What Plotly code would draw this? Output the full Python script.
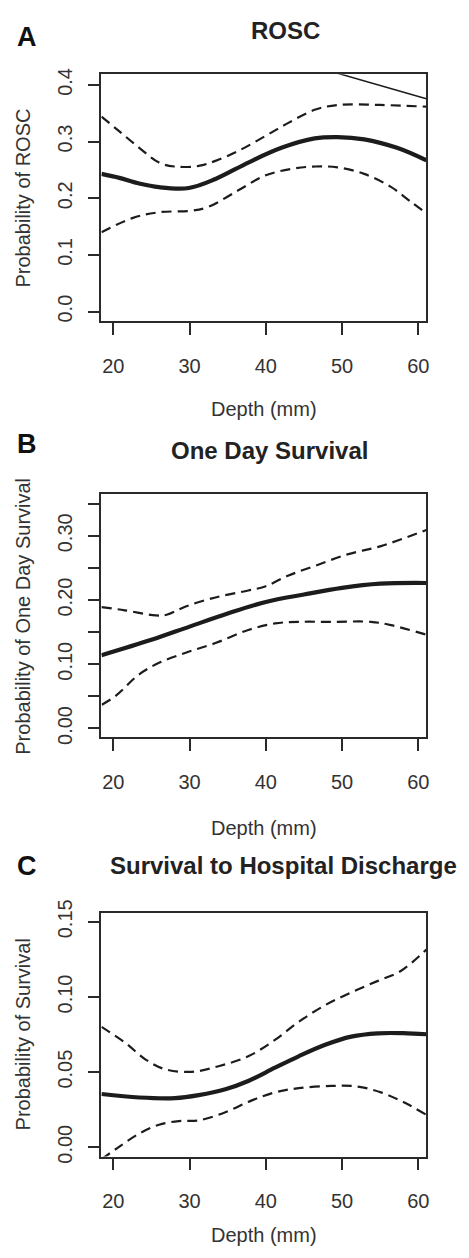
import plotly.graph_objects as go

# page is photographed at 469x1258; the html body has an 8px margin,
# so the figure itself is made 8px smaller and all page positions shifted.
PAGE_W, PAGE_H, OFF = 469, 1258, 8
W, H = PAGE_W - OFF, PAGE_H - OFF

# ---------------- data ----------------
x_ticks = [20, 30, 40, 50, 60]
x_range = [18.44, 61.04]

# Panel A: ROSC
A_main_x = [18.45, 20.8, 23.4, 26.0, 29.9, 33.4, 37.7, 42.05, 46.4, 49.4, 52.9, 57.2, 61.05]
A_main_y = [0.243, 0.236, 0.226, 0.2195, 0.218, 0.234, 0.263, 0.289, 0.3056, 0.308, 0.304, 0.289, 0.267]
A_up_x = [18.45, 20.8, 23.4, 26.0, 28.0, 31.2, 33.4, 36.4, 39.9, 42.9, 46.4, 49.4, 55.0, 61.05]
A_up_y = [0.344, 0.318, 0.289, 0.263, 0.256, 0.257, 0.266, 0.2835, 0.3095, 0.3326, 0.356, 0.3646, 0.3646, 0.3616]
A_lo_x = [18.45, 22.5, 26.0, 30.3, 32.5, 36.4, 39.9, 43.3, 46.4, 49.4, 52.9, 56.4, 59.0, 61.05]
A_lo_y = [0.14, 0.165, 0.1753, 0.178, 0.185, 0.214, 0.24, 0.2517, 0.256, 0.2545, 0.243, 0.22, 0.194, 0.1736]
A_thin_x = [48.0, 61.05]
A_thin_y = [0.426, 0.3755]
A_ytick_vals = [0.0, 0.1, 0.2, 0.3, 0.4]
A_ytick_text = ["0.0", "0.1", "0.2", "0.3", "0.4"]
A_yrange = [-0.0168, 0.419]

# Panel B: One Day Survival
B_main_x = [18.45, 25.0, 30.0, 35.0, 40.0, 45.0, 50.0, 55.0, 61.05]
B_main_y = [0.114, 0.138, 0.1586, 0.179, 0.197, 0.2086, 0.219, 0.2254, 0.2265]
B_up_x = [18.45, 21.5, 25.56, 27.0, 29.5, 33.4, 37.7, 39.9, 42.9, 46.4, 50.7, 55.1, 61.05]
B_up_y = [0.189, 0.184, 0.176, 0.177, 0.19, 0.204, 0.2148, 0.221, 0.2378, 0.253, 0.271, 0.284, 0.309]
B_lo_x = [18.5, 20.35, 23.4, 26.0, 29.5, 33.4, 37.7, 41.2, 44.3, 48.6, 53.8, 56.4, 61.05]
B_lo_y = [0.037, 0.0511, 0.0844, 0.1022, 0.118, 0.133, 0.1534, 0.1636, 0.166, 0.166, 0.166, 0.161, 0.146]
B_ytick_vals = [0.0, 0.05, 0.10, 0.15, 0.20, 0.25, 0.30, 0.35]
B_ytick_text = ["0.00", "", "0.10", "", "0.20", "", "0.30", ""]
B_yrange = [-0.0138, 0.3646]

# Panel C: Survival to Hospital Discharge
C_main_x = [18.45, 23.4, 28.1, 31.2, 34.7, 37.7, 41.2, 44.3, 47.7, 51.2, 54.7, 58.0, 61.05]
C_main_y = [0.0354, 0.0331, 0.0327, 0.0347, 0.0386, 0.0441, 0.0529, 0.0605, 0.068, 0.0736, 0.0758, 0.0759, 0.0752]
C_up_x = [18.45, 21.65, 24.25, 26.85, 30.3, 33.8, 37.7, 41.2, 44.3, 47.7, 51.2, 54.7, 57.7, 61.05]
C_up_y = [0.0801, 0.0692, 0.0583, 0.0518, 0.0502, 0.0539, 0.0605, 0.0714, 0.0834, 0.0943, 0.103, 0.1107, 0.1173, 0.1315]
C_lo_x = [18.45, 20.8, 23.4, 26.0, 28.6, 31.2, 34.7, 38.1, 41.2, 44.3, 48.6, 52.0, 55.1, 58.1, 61.05]
C_lo_y = [-0.008, 0.0004, 0.0091, 0.015, 0.0174, 0.0179, 0.0233, 0.031, 0.0365, 0.0393, 0.0408, 0.0404, 0.0365, 0.0299, 0.0216]
C_ytick_vals = [0.0, 0.05, 0.10, 0.15]
C_ytick_text = ["0.00", "0.05", "0.10", "0.15"]
C_yrange = [-0.0062, 0.1562]

letters = ["A", "B", "C"]
titles = ["ROSC", "One Day Survival", "Survival to Hospital Discharge"]
ylabels = ["Probability of ROSC", "Probability of One Day Survival", "Probability of Survival"]
xlabel = "Depth (mm)"

# ---------------- layout geometry (page pixels) ----------------
plot_left, plot_right = 102, 429
panels = [
    dict(top=62, bottom=313, letter_y=24, title_x=287, title_y=18, xlab_y=402),
    dict(top=489, bottom=736, letter_y=438, title_x=271, title_y=444, xlab_y=828),
    dict(top=914, bottom=1162, letter_y=867, title_x=285, title_y=866, xlab_y=1242),
]


def px(x):
    return (x - OFF) / W


def py(y):
    return 1 - (y - OFF) / H


LINE = "#1c1c1c"
AXC = "#2a2a2a"
FONT = "Liberation Sans, Arial, sans-serif"

fig = go.Figure()

series = [
    (A_main_x, A_main_y, A_up_x, A_up_y, A_lo_x, A_lo_y),
    (B_main_x, B_main_y, B_up_x, B_up_y, B_lo_x, B_lo_y),
    (C_main_x, C_main_y, C_up_x, C_up_y, C_lo_x, C_lo_y),
]
for i, (mx, my, ux, uy, lx, ly) in enumerate(series):
    xa = "x" if i == 0 else f"x{i+1}"
    ya = "y" if i == 0 else f"y{i+1}"
    fig.add_trace(go.Scatter(x=ux, y=uy, mode="lines", xaxis=xa, yaxis=ya,
                             line=dict(color=LINE, width=2.2, dash="10px,6px", shape="spline", smoothing=1.0),
                             showlegend=False, hoverinfo="skip"))
    fig.add_trace(go.Scatter(x=lx, y=ly, mode="lines", xaxis=xa, yaxis=ya,
                             line=dict(color=LINE, width=2.2, dash="10px,6px", shape="spline", smoothing=1.0),
                             showlegend=False, hoverinfo="skip"))
    fig.add_trace(go.Scatter(x=mx, y=my, mode="lines", xaxis=xa, yaxis=ya,
                             line=dict(color=LINE, width=4.2, shape="spline", smoothing=1.0),
                             showlegend=False, hoverinfo="skip"))
    if i == 0:
        fig.add_trace(go.Scatter(x=A_thin_x, y=A_thin_y, mode="lines", xaxis=xa, yaxis=ya,
                                 line=dict(color=LINE, width=1.5),
                                 showlegend=False, hoverinfo="skip"))

yticks = [(A_ytick_vals, A_ytick_text, A_yrange),
          (B_ytick_vals, B_ytick_text, B_yrange),
          (C_ytick_vals, C_ytick_text, C_yrange)]

layout = dict(
    width=W, height=H,
    margin=dict(l=0, r=0, t=0, b=0),
    paper_bgcolor="white", plot_bgcolor="white",
    font=dict(family=FONT, color="#333"),
    showlegend=False,
)
annotations = []
for i, p in enumerate(panels):
    sfx = "" if i == 0 else str(i + 1)
    ydom = [py(p["bottom"]), py(p["top"])]
    vals, texts, yr = yticks[i]
    layout["xaxis" + sfx] = dict(
        domain=[px(plot_left), px(plot_right)], range=x_range,
        anchor="y" + sfx, tickvals=x_ticks, ticktext=[str(v) for v in x_ticks],
        ticks="outside", ticklen=12, tickwidth=1.6, tickcolor=AXC,
        showline=True, mirror=True, linecolor=AXC, linewidth=1.6,
        showgrid=False, zeroline=False,
        tickfont=dict(size=20, family=FONT, color="#333"),
        ticklabelstandoff=14, fixedrange=True,
    )
    layout["yaxis" + sfx] = dict(
        domain=ydom, range=yr, anchor="x" + sfx,
        tickvals=vals, ticktext=texts, tickangle=-90,
        ticks="outside", ticklen=12, tickwidth=1.6, tickcolor=AXC,
        showline=True, mirror=True, linecolor=AXC, linewidth=1.6,
        showgrid=False, zeroline=False,
        tickfont=dict(size=20, family=FONT, color="#333"),
        ticklabelstandoff=8, fixedrange=True,
    )
    annotations.append(dict(text="<b>%s</b>" % letters[i], x=px(27), y=py(p["letter_y"]),
                            xref="paper", yref="paper", xanchor="center", yanchor="middle",
                            showarrow=False, font=dict(size=27, family=FONT, color="#111")))
    annotations.append(dict(text="<b>%s</b>" % titles[i], x=px(p["title_x"]), y=py(p["title_y"]),
                            xref="paper", yref="paper", xanchor="center", yanchor="middle",
                            showarrow=False, font=dict(size=24, family=FONT, color="#222")))
    annotations.append(dict(text=xlabel, x=px((plot_left + plot_right) / 2), y=py(p["xlab_y"]),
                            xref="paper", yref="paper", xanchor="center", yanchor="middle",
                            showarrow=False, font=dict(size=20, family=FONT, color="#333")))
    annotations.append(dict(text=ylabels[i], x=px(23), y=py((p["top"] + p["bottom"]) / 2),
                            xref="paper", yref="paper", xanchor="center", yanchor="middle",
                            textangle=-90, showarrow=False,
                            font=dict(size=20, family=FONT, color="#333")))
layout["annotations"] = annotations
fig.update_layout(**layout)

fig.write_html("out.html")
